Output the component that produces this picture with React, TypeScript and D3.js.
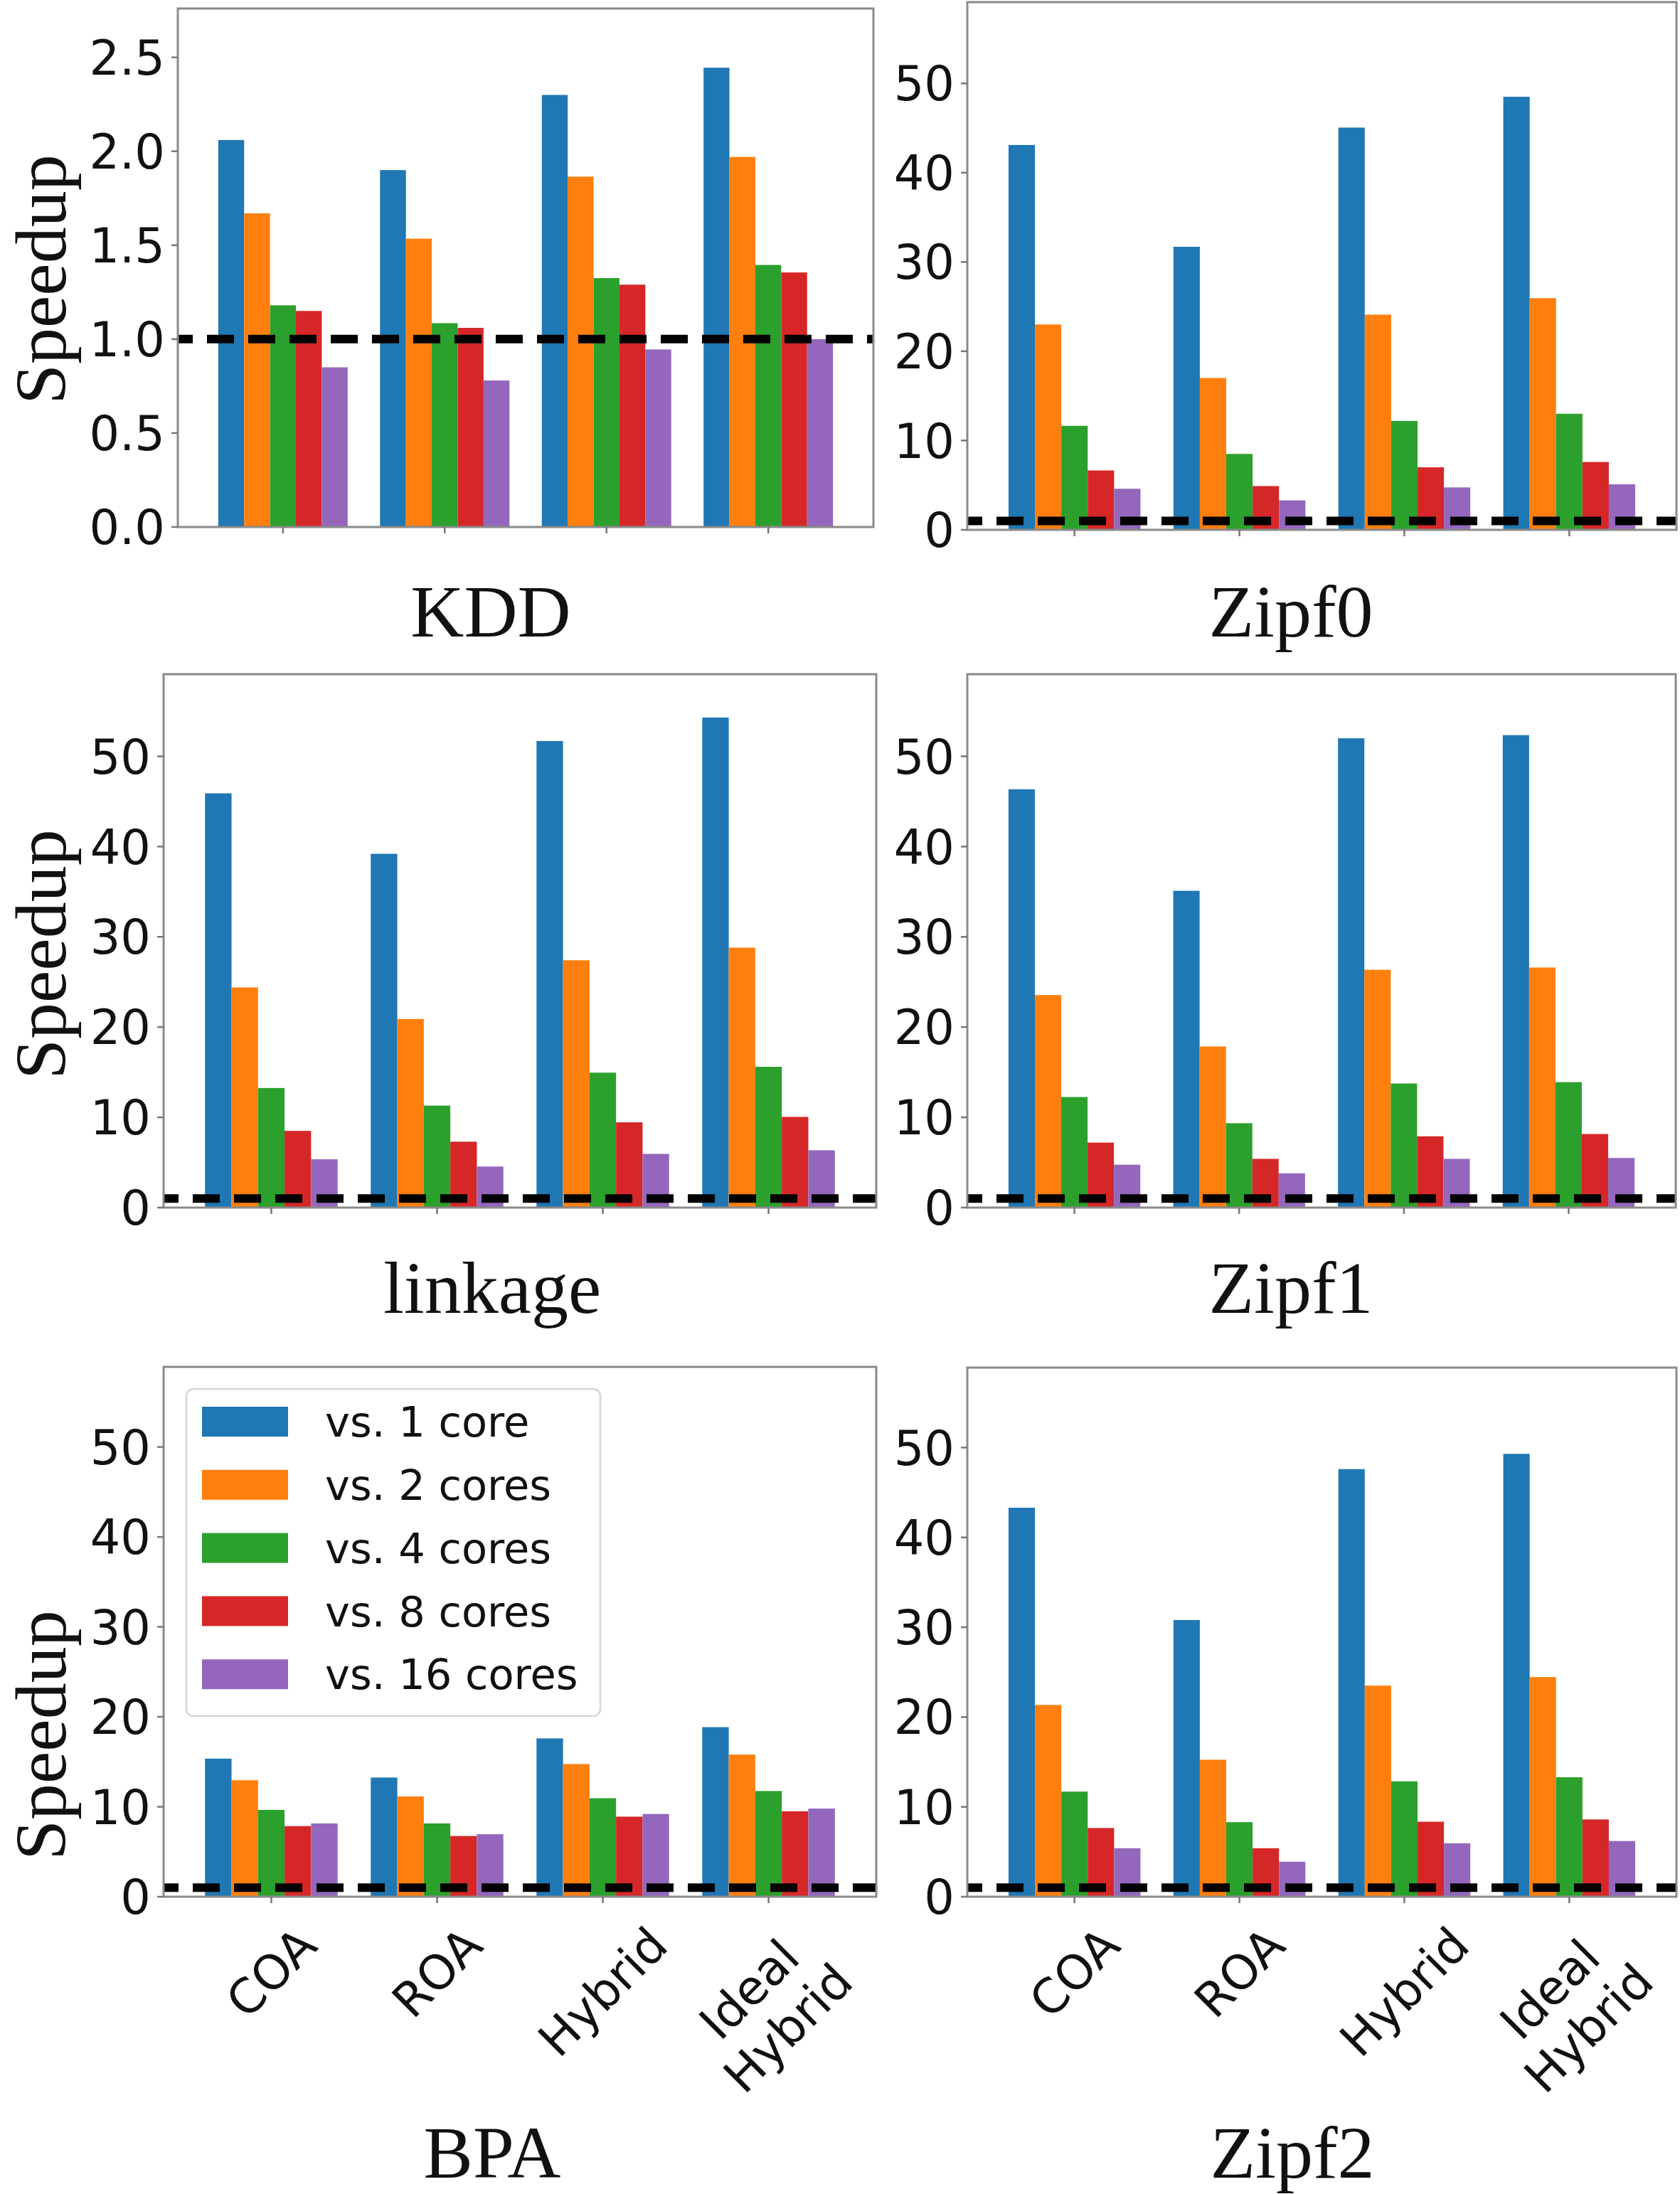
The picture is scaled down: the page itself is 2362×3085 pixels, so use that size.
import React, { useRef, useEffect } from 'react'
import * as d3 from 'd3'

const groups = ['COA', 'ROA', 'Hybrid', 'Ideal\nHybrid']
const seriesNames = ['vs. 1 core', 'vs. 2 cores', 'vs. 4 cores', 'vs. 8 cores', 'vs. 16 cores']
const colors = ['#1f77b4', '#ff7f0e', '#2ca02c', '#d62728', '#9467bd']

// speedup per group: [vs 1, vs 2, vs 4, vs 8, vs 16 cores]
const kdd = [
  [2.06, 1.67, 1.18, 1.15, 0.85],
  [1.9, 1.535, 1.085, 1.06, 0.78],
  [2.3, 1.865, 1.325, 1.29, 0.945],
  [2.445, 1.97, 1.395, 1.355, 1.0],
]
const zipf0 = [
  [43.1, 23.0, 11.65, 6.65, 4.6],
  [31.7, 17.0, 8.5, 4.9, 3.3],
  [45.05, 24.1, 12.2, 7.0, 4.75],
  [48.5, 25.95, 13.0, 7.6, 5.1],
]
const linkage = [
  [45.9, 24.4, 13.25, 8.5, 5.35],
  [39.2, 20.9, 11.3, 7.3, 4.55],
  [51.7, 27.4, 14.95, 9.45, 5.95],
  [54.3, 28.8, 15.6, 10.05, 6.35],
]
const zipf1 = [
  [46.35, 23.55, 12.25, 7.2, 4.75],
  [35.1, 17.85, 9.35, 5.4, 3.8],
  [52.0, 26.35, 13.75, 7.9, 5.4],
  [52.35, 26.6, 13.9, 8.15, 5.5],
]
const bpa = [
  [15.35, 12.95, 9.65, 7.85, 8.15],
  [13.25, 11.15, 8.15, 6.75, 6.95],
  [17.6, 14.75, 10.95, 8.9, 9.2],
  [18.85, 15.8, 11.75, 9.5, 9.8],
]
const zipf2 = [
  [43.3, 21.35, 11.7, 7.65, 5.4],
  [30.8, 15.25, 8.3, 5.4, 3.9],
  [47.6, 23.5, 12.85, 8.35, 5.95],
  [49.3, 24.45, 13.3, 8.6, 6.2],
]

const kddTicks = [0, 0.5, 1.0, 1.5, 2.0, 2.5]
const bigTicks = [0, 10, 20, 30, 40, 50]

const W = 2362
const H = 3085

const panels = [
  { title: 'KDD', data: kdd, ymax: 2.76, ticks: kddTicks, fmt: '.1f', box: [250, 1228, 12, 741], titleX: 690, titleY: 895, ylabelY: 393, xlabels: false, legend: false },
  { title: 'Zipf0', data: zipf0, ymax: 59.1, ticks: bigTicks, fmt: 'd', box: [1360, 2357, 3, 745], titleX: 1815, titleY: 895, ylabelY: null, xlabels: false, legend: false },
  { title: 'linkage', data: linkage, ymax: 59.1, ticks: bigTicks, fmt: 'd', box: [230, 1232, 948, 1698], titleX: 692, titleY: 1846, ylabelY: 1342, xlabels: false, legend: false },
  { title: 'Zipf1', data: zipf1, ymax: 59.1, ticks: bigTicks, fmt: 'd', box: [1360, 2356, 948, 1698], titleX: 1815, titleY: 1846, ylabelY: null, xlabels: false, legend: false },
  { title: 'BPA', data: bpa, ymax: 58.9, ticks: bigTicks, fmt: 'd', box: [230, 1232, 1922, 2667], titleX: 692, titleY: 3062, ylabelY: 2440, xlabels: true, legend: true },
  { title: 'Zipf2', data: zipf2, ymax: 58.9, ticks: bigTicks, fmt: 'd', box: [1360, 2357, 1923, 2667], titleX: 1817, titleY: 3062, ylabelY: null, xlabels: true, legend: false },
]

const App = () => {
  const svgRef = useRef(null)

  useEffect(() => {
    document.body.style.margin = '0'
    const svg = d3.select(svgRef.current)
    svg.selectAll('*').remove()

    panels.forEach((p) => {
      const [left, right, top, bottom] = p.box
      const g = svg.append('g')

      const x = d3
        .scaleBand()
        .domain(groups)
        .range([left, right])
        .paddingInner(0.2)
        .paddingOuter(0.25)
      const xs = d3
        .scaleBand()
        .domain(seriesNames)
        .range([0, x.bandwidth()])
        .padding(0)
      const y = d3.scaleLinear().domain([0, p.ymax]).range([bottom, top])

      // bars
      groups.forEach((grp, gi) => {
        g.append('g')
          .selectAll('rect')
          .data(p.data[gi])
          .enter()
          .append('rect')
          .attr('x', (d, i) => x(grp) + xs(seriesNames[i]))
          .attr('y', (d) => y(d))
          .attr('width', xs.bandwidth())
          .attr('height', (d) => y(0) - y(d))
          .attr('fill', (d, i) => colors[i])
      })

      // baseline speedup = 1
      g.append('line')
        .attr('x1', left)
        .attr('x2', right)
        .attr('y1', y(1))
        .attr('y2', y(1))
        .attr('stroke', '#000')
        .attr('stroke-width', 12)
        .attr('stroke-dasharray', '38 20')
        .attr('stroke-dashoffset', 17)

      // frame
      g.append('rect')
        .attr('x', left)
        .attr('y', top)
        .attr('width', right - left)
        .attr('height', bottom - top)
        .attr('fill', 'none')
        .attr('stroke', '#8a8a8a')
        .attr('stroke-width', 3)

      // y ticks
      const fmt = d3.format(p.fmt)
      const yt = g.append('g')
      p.ticks.forEach((t) => {
        yt.append('line')
          .attr('x1', left - 9)
          .attr('x2', left)
          .attr('y1', y(t))
          .attr('y2', y(t))
          .attr('stroke', '#777')
          .attr('stroke-width', 2.5)
        yt.append('text')
          .attr('x', left - 18)
          .attr('y', y(t))
          .attr('dy', '0.36em')
          .attr('text-anchor', 'end')
          .attr('font-family', 'DejaVu Sans')
          .attr('font-size', 67)
          .attr('fill', '#111')
          .text(fmt(t))
      })

      // x ticks
      groups.forEach((grp) => {
        const cx = x(grp) + x.bandwidth() / 2
        g.append('line')
          .attr('x1', cx)
          .attr('x2', cx)
          .attr('y1', bottom)
          .attr('y2', bottom + 9)
          .attr('stroke', '#777')
          .attr('stroke-width', 2.5)

        if (p.xlabels) {
          const lines = grp.split('\n')
          const fs = 67
          const lab = g
            .append('g')
            .attr('font-family', 'DejaVu Sans')
            .attr('font-size', fs)
            .attr('fill', '#111')
          lines.forEach((ln, li) => {
            lab
              .append('text')
              .attr('x', 0)
              .attr('y', (li - (lines.length - 1) / 2) * fs * 1.15)
              .attr('dy', '0.35em')
              .attr('text-anchor', 'middle')
              .text(ln)
          })
          const bb = lab.node().getBBox()
          const wText = bb.width
          const off = 32 + (wText + lines.length * fs) / (2 * Math.SQRT2)
          lab.attr('transform', `translate(${cx},${bottom + off}) rotate(-45)`)
        }
      })

      // subplot label
      g.append('text')
        .attr('x', p.titleX)
        .attr('y', p.titleY)
        .attr('text-anchor', 'middle')
        .attr('font-family', 'Liberation Serif')
        .attr('font-size', 104)
        .attr('fill', '#111')
        .text(p.title)

      if (p.ylabelY !== null) {
        g.append('text')
          .attr('transform', `translate(92,${p.ylabelY}) rotate(-90)`)
          .attr('text-anchor', 'middle')
          .attr('font-family', 'Liberation Serif')
          .attr('font-size', 102)
          .attr('fill', '#111')
          .text('Speedup')
      }

      if (p.legend) {
        const lg = g.append('g')
        lg.append('rect')
          .attr('x', 262)
          .attr('y', 1953)
          .attr('width', 582)
          .attr('height', 460)
          .attr('rx', 10)
          .attr('fill', 'white')
          .attr('fill-opacity', 0.85)
          .attr('stroke', '#d6d6d6')
          .attr('stroke-width', 2.5)
        seriesNames.forEach((s, i) => {
          const cy = 1999 + i * 88.8
          lg.append('rect')
            .attr('x', 284)
            .attr('y', cy - 21)
            .attr('width', 121)
            .attr('height', 42)
            .attr('fill', colors[i])
          lg.append('text')
            .attr('x', 457)
            .attr('y', cy)
            .attr('dy', '0.36em')
            .attr('font-family', 'DejaVu Sans')
            .attr('font-size', 59)
            .attr('fill', '#111')
            .text(s)
        })
      }
    })
  }, [])

  return (
    <div style={{ width: W, height: H }}>
      <svg ref={svgRef} width={W} height={H} style={{ display: 'block', background: '#fff' }} />
    </div>
  )
}

export default App
